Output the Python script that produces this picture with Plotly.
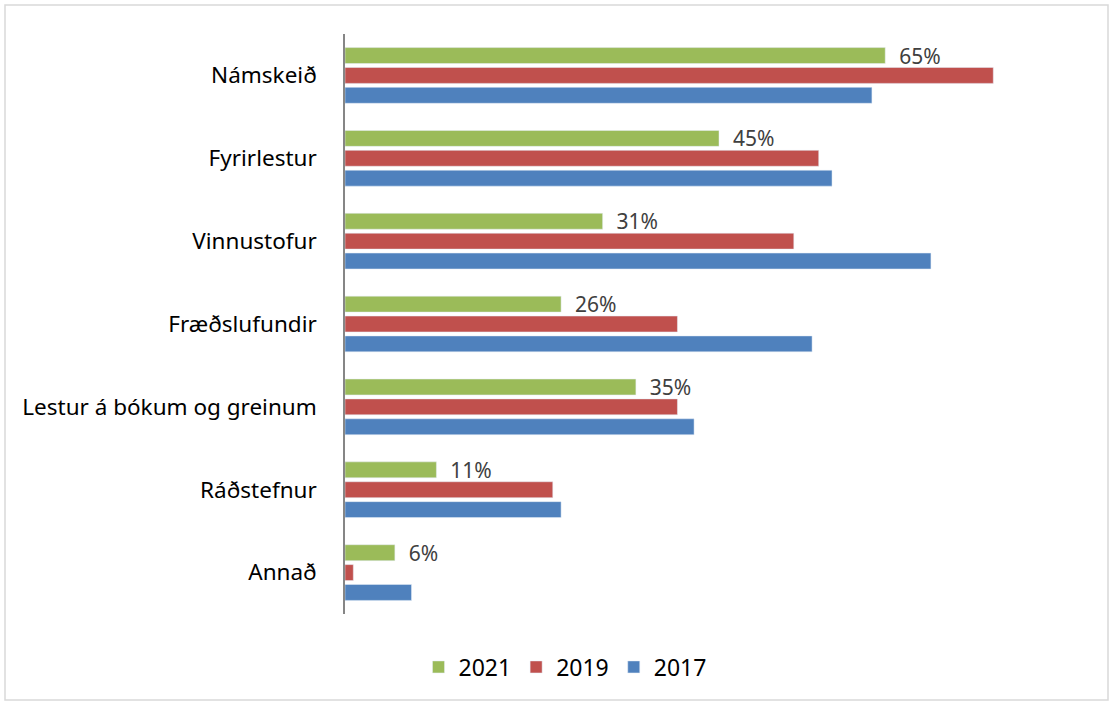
import plotly.graph_objects as go

categories = ["Námskeið", "Fyrirlestur", "Vinnustofur", "Fræðslufundir",
              "Lestur á bókum og greinum", "Ráðstefnur", "Annað"]
years = ["2021", "2019", "2017"]
values_2021 = [65, 45, 31, 26, 35, 11, 6]
values_2019 = [78, 57, 54, 40, 40, 25, 1]
values_2017 = [63.4, 58.6, 70.5, 56.2, 42, 26, 8]
colors = ["#9bbb59", "#c0504d", "#4f81bd"]

fig = go.Figure()
for year, vals, col in zip(years, [values_2021, values_2019, values_2017], colors):
    fig.add_bar(
        name=year, y=categories, x=vals, orientation="h", marker_color=col,
        text=[f"  {v}%" for v in vals] if year == "2021" else None,
        textposition="outside" if year == "2021" else "none",
        textfont=dict(size=21, color="#404040"),
        constraintext="none",
        cliponaxis=False,
    )

L, R, T, B = 345, 20, 34, 90
W, H = 1113, 704
pw, ph = W - L - R, H - T - B

def px_x(v):
    return (v - L) / pw

def px_y(v):
    return (H - B - v) / ph

fig.update_layout(
    width=W, height=H,
    margin=dict(l=L, r=R, t=T, b=B, autoexpand=False),
    plot_bgcolor="white", paper_bgcolor="white",
    font=dict(family="Noto Sans", color="black"),
    barmode="group", bargap=0.28, bargroupgap=0.2,
    xaxis=dict(range=[0, 90], visible=False),
    yaxis=dict(autorange="reversed", showline=True, linecolor="#868686", linewidth=1.5,
               ticks="", tickfont=dict(size=22.5), ticklabelstandoff=22, automargin=False),
    legend=dict(orientation="h", x=px_x(565), xanchor="center", y=px_y(667), yanchor="middle",
                font=dict(size=23), traceorder="normal", itemwidth=30),
    showlegend=True,
    shapes=[dict(type="rect", xref="paper", yref="paper",
                 x0=px_x(5), x1=px_x(1108), y0=px_y(700), y1=px_y(5),
                 line=dict(color="#d9d9d9", width=1.5))],
)

fig.write_html("out.html", config={"displayModeBar": False},
               post_script="document.body.style.margin='0';")
